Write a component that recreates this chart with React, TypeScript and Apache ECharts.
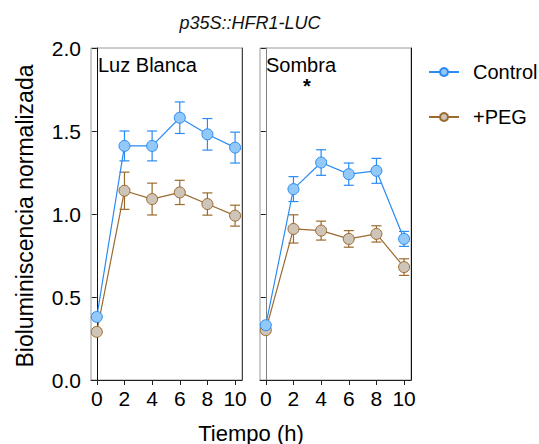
import React, { useEffect, useRef } from "react";
import * as echarts from "echarts";

const times = [0, 2, 4, 6, 8, 10];
const tickValues = [0, 2, 4, 6, 8, 10];
const luzControl = [0.38, 1.41, 1.41, 1.58, 1.48, 1.4];
const luzControlErr = [0, 0.09, 0.09, 0.095, 0.095, 0.093];
const luzPeg = [0.29, 1.14, 1.09, 1.13, 1.06, 0.99];
const luzPegErr = [0, 0.112, 0.096, 0.073, 0.067, 0.063];
const sombraControl = [0.33, 1.15, 1.31, 1.24, 1.26, 0.85];
const sombraControlErr = [0, 0.075, 0.077, 0.067, 0.075, 0.045];
const sombraPeg = [0.3, 0.91, 0.9, 0.85, 0.88, 0.68];
const sombraPegErr = [0, 0.085, 0.057, 0.05, 0.049, 0.05];
const seriesNames = ["Control", "+PEG"];
const panelNames = ["Luz Blanca", "Sombra"];

const FONT = "'Liberation Sans', Arial, sans-serif";
const BLUE = "#2A8BF2";
const BLUE_FILL = "#92C9F8";
const BROWN = "#9A6A2E";
const BROWN_FILL = "#CEC4B7";

function errSeries(vals: number[], errs: number[], color: string, gi: number) {
  return {
    type: "custom",
    xAxisIndex: gi,
    yAxisIndex: gi,
    z: 2,
    silent: true,
    data: times.map((t, i) => [t, vals[i], errs[i]]),
    encode: { x: 0, y: 1 },
    renderItem: (params: any, api: any) => {
      const x = api.value(0);
      const y = api.value(1);
      const e = api.value(2);
      if (!e) return { type: "group", children: [] };
      const top = api.coord([x, y + e]);
      const bot = api.coord([x, y - e]);
      const hw = 5;
      const style = { stroke: color, lineWidth: 1.2 };
      return {
        type: "group",
        children: [
          { type: "line", shape: { x1: top[0], y1: top[1], x2: bot[0], y2: bot[1] }, style },
          { type: "line", shape: { x1: top[0] - hw, y1: top[1], x2: top[0] + hw, y2: top[1] }, style },
          { type: "line", shape: { x1: bot[0] - hw, y1: bot[1], x2: bot[0] + hw, y2: bot[1] }, style },
        ],
      };
    },
  };
}

function lineSeries(name: string, vals: number[], color: string, fill: string, gi: number) {
  return {
    type: "line",
    name,
    xAxisIndex: gi,
    yAxisIndex: gi,
    z: 3,
    data: times.map((t, i) => [t, vals[i]]),
    symbol: "circle",
    symbolSize: 11,
    lineStyle: { color, width: 1.2 },
    itemStyle: { color: fill, borderColor: color, borderWidth: 1 },
  };
}

export default function App() {
  const ref = useRef<HTMLDivElement>(null);
  useEffect(() => {
    if (!ref.current) return;
    const chart = echarts.init(ref.current, null, { renderer: "svg" });
    const grids = [
      { left: 91, top: 48, width: 151, height: 332, show: true, borderColor: "#9a9a9a", borderWidth: 1 },
      { left: 260, top: 48, width: 151, height: 332, show: true, borderColor: "#9a9a9a", borderWidth: 1 },
    ];
    const xAxis = [0, 1].map((gi) => ({
      type: "value",
      gridIndex: gi,
      min: -0.42,
      max: 10.5,
      splitLine: { show: false },
      axisLine: { show: true, lineStyle: { color: "#222", width: 1 } },
      axisTick: { show: true, length: 5, lineStyle: { color: "#222" }, customValues: tickValues },
      axisLabel: { show: true, customValues: tickValues, fontSize: 21, color: "#000", fontFamily: FONT, margin: 8 },
    }));
    const yAxis: any[] = [0, 1].map((gi) => ({
      type: "value",
      gridIndex: gi,
      min: 0,
      max: 2,
      interval: 0.5,
      splitLine: { show: false },
      axisLine: { show: true, lineStyle: { color: gi === 0 ? "#111" : "#808080", width: 1 } },
      axisTick: { show: true, length: 5, lineStyle: { color: "#222" } },
      axisLabel: {
        show: gi === 0,
        fontSize: 21,
        color: "#000",
        fontFamily: FONT,
        margin: 10,
        formatter: (v: number) => v.toFixed(1),
      },
    }));
    [0, 1].forEach((gi) => {
      yAxis.push({
        type: "value",
        gridIndex: gi,
        position: "right",
        min: 0,
        max: 2,
        splitLine: { show: false },
        axisLine: { show: true, lineStyle: { color: gi === 0 ? "#444" : "#111", width: 1 } },
        axisTick: { show: false },
        axisLabel: { show: false },
      });
    });
    chart.setOption({
      animation: false,
      backgroundColor: "#fff",
      textStyle: { fontFamily: FONT },
      grid: grids,
      xAxis,
      yAxis,
      legend: {
        orient: "vertical",
        left: 428,
        top: 60,
        padding: 0,
        itemWidth: 30,
        itemHeight: 10,
        itemGap: 21,
        data: seriesNames,
        textStyle: { fontSize: 20, color: "#000", fontFamily: FONT, lineHeight: 24, padding: [0, 0, 0, 9] },
      },
      graphic: [
        {
          type: "text",
          x: 250,
          y: 23,
          style: { text: "p35S::HFR1-LUC", fontSize: 18, fontStyle: "italic", fontFamily: FONT, fill: "#111", align: "center", verticalAlign: "middle" },
        },
        {
          type: "text",
          x: 98,
          y: 65,
          style: { text: panelNames[0], fontSize: 20, fontFamily: FONT, fill: "#000", verticalAlign: "middle" },
        },
        {
          type: "text",
          x: 266,
          y: 65,
          style: { text: panelNames[1], fontSize: 20, fontFamily: FONT, fill: "#000", verticalAlign: "middle" },
        },
        {
          type: "text",
          x: 307,
          y: 86,
          style: { text: "*", fontSize: 20, fontFamily: FONT, fontWeight: "bold", fill: "#000", align: "center", verticalAlign: "middle" },
        },
        {
          type: "text",
          x: 251,
          y: 433,
          style: { text: "Tiempo (h)", fontSize: 22, fontFamily: FONT, fill: "#000", align: "center", verticalAlign: "middle" },
        },
        {
          type: "text",
          x: 25,
          y: 216,
          rotation: Math.PI / 2,
          style: { text: "Bioluminiscencia normalizada", fontSize: 23, fontFamily: FONT, fill: "#000", align: "center", verticalAlign: "middle" },
        },
      ],
      series: [
        errSeries(luzControl, luzControlErr, BLUE, 0),
        errSeries(luzPeg, luzPegErr, BROWN, 0),
        errSeries(sombraControl, sombraControlErr, BLUE, 1),
        errSeries(sombraPeg, sombraPegErr, BROWN, 1),
        lineSeries(seriesNames[1], luzPeg, BROWN, BROWN_FILL, 0),
        lineSeries(seriesNames[0], luzControl, BLUE, BLUE_FILL, 0),
        lineSeries(seriesNames[1], sombraPeg, BROWN, BROWN_FILL, 1),
        lineSeries(seriesNames[0], sombraControl, BLUE, BLUE_FILL, 1),
      ],
    });
    return () => chart.dispose();
  }, []);
  return <div ref={ref} style={{ position: "fixed", left: 0, top: 0, width: 539, height: 444 }} />;
}
